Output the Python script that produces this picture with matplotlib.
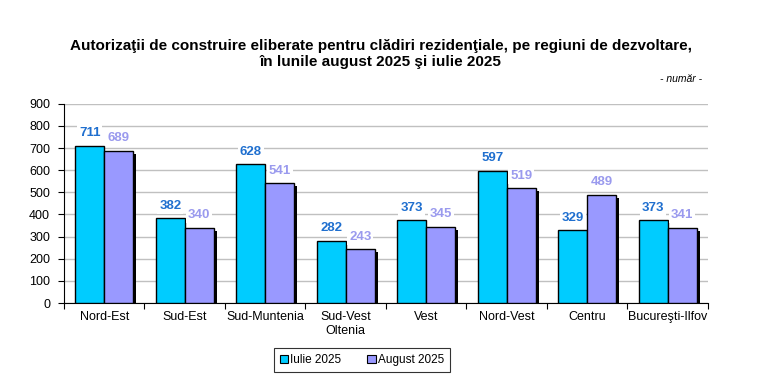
import matplotlib
matplotlib.use("Agg")
import matplotlib.pyplot as plt
import matplotlib.patheffects as pe
from matplotlib.patches import Patch
import numpy as np

regions = ["Nord-Est", "Sud-Est", "Sud-Muntenia", "Sud-Vest\nOltenia", "Vest",
           "Nord-Vest", "Centru", "Bucureşti-Ilfov"]
iulie = [711, 382, 628, 282, 373, 597, 329, 373]
august = [689, 340, 541, 243, 345, 519, 489, 341]
series_names = ["Iulie 2025", "August 2025"]
yticks = list(range(0, 1000, 100))

plt.rcParams["font.family"] = ["Liberation Sans", "DejaVu Sans"]

fig = plt.figure(figsize=(7.62, 3.75), dpi=100)
ax = fig.add_axes([0.084, 0.192, 0.845, 0.531])

x = np.arange(len(regions))
w = 0.36
colors = ["#00CCFF", "#9999FF"]
shadow = [pe.SimplePatchShadow(offset=(2.2, -2.2), shadow_rgbFace="black", alpha=1), pe.Normal()]

b1 = ax.bar(x - w / 2, iulie, w, color=colors[0], edgecolor="black", linewidth=1.0, zorder=3)
b2 = ax.bar(x + w / 2, august, w, color=colors[1], edgecolor="black", linewidth=1.0, zorder=3)
for b in b2:
    b.set_path_effects(shadow)

for bars, col in [(b1, "#1F6FCF"), (b2, "#9A9AEE")]:
    for b in bars:
        ax.annotate(str(int(b.get_height())), (b.get_x() + b.get_width() / 2, b.get_height()),
                    xytext=(0, 9), textcoords="offset points", ha="center", va="center",
                    fontsize=9.5, fontweight="bold", color=col, zorder=4,
                    bbox=dict(boxstyle="square,pad=0.15", fc="white", ec="none"))

ax.set_xlim(-0.5, len(regions) - 0.5)
ax.set_ylim(0, 900)
ax.set_yticks(yticks)
ax.yaxis.grid(True, color="#C0C0C0", linewidth=1.0, zorder=0)
ax.set_axisbelow(True)
ax.tick_params(axis="y", labelsize=9, length=4, direction="out", pad=6)

ax.set_xticks(np.arange(len(regions) + 1) - 0.5)
ax.set_xticklabels([])
ax.set_xticks(x, minor=True)
ax.set_xticklabels(regions, minor=True, fontsize=9)
ax.tick_params(axis="x", which="major", length=4, direction="out")
ax.tick_params(axis="x", which="minor", length=0, pad=6)

for s in ["top", "right"]:
    ax.spines[s].set_visible(False)

fig.text(0.5, 0.856, "Autorizaţii de construire eliberate pentru clădiri rezidenţiale, pe regiuni de dezvoltare,\nîn lunile august 2025 şi iulie 2025",
         ha="center", va="center", fontsize=11, fontweight="bold", linespacing=1.25)
fig.text(0.922, 0.79, "- număr -", ha="right", va="center", fontsize=7.5, style="italic")

handles = [Patch(facecolor=c, edgecolor="black", linewidth=0.8) for c in colors]
leg = fig.legend(handles, series_names, loc="center", bbox_to_anchor=(0.475, 0.04), ncol=2,
                 fontsize=8.5, frameon=True, fancybox=False, edgecolor="black", handlelength=0.7,
                 handleheight=0.7, handletextpad=0.2, columnspacing=2.2, borderpad=0.5)
leg.get_frame().set_linewidth(0.8)

fig.savefig("out.png", dpi=100)
